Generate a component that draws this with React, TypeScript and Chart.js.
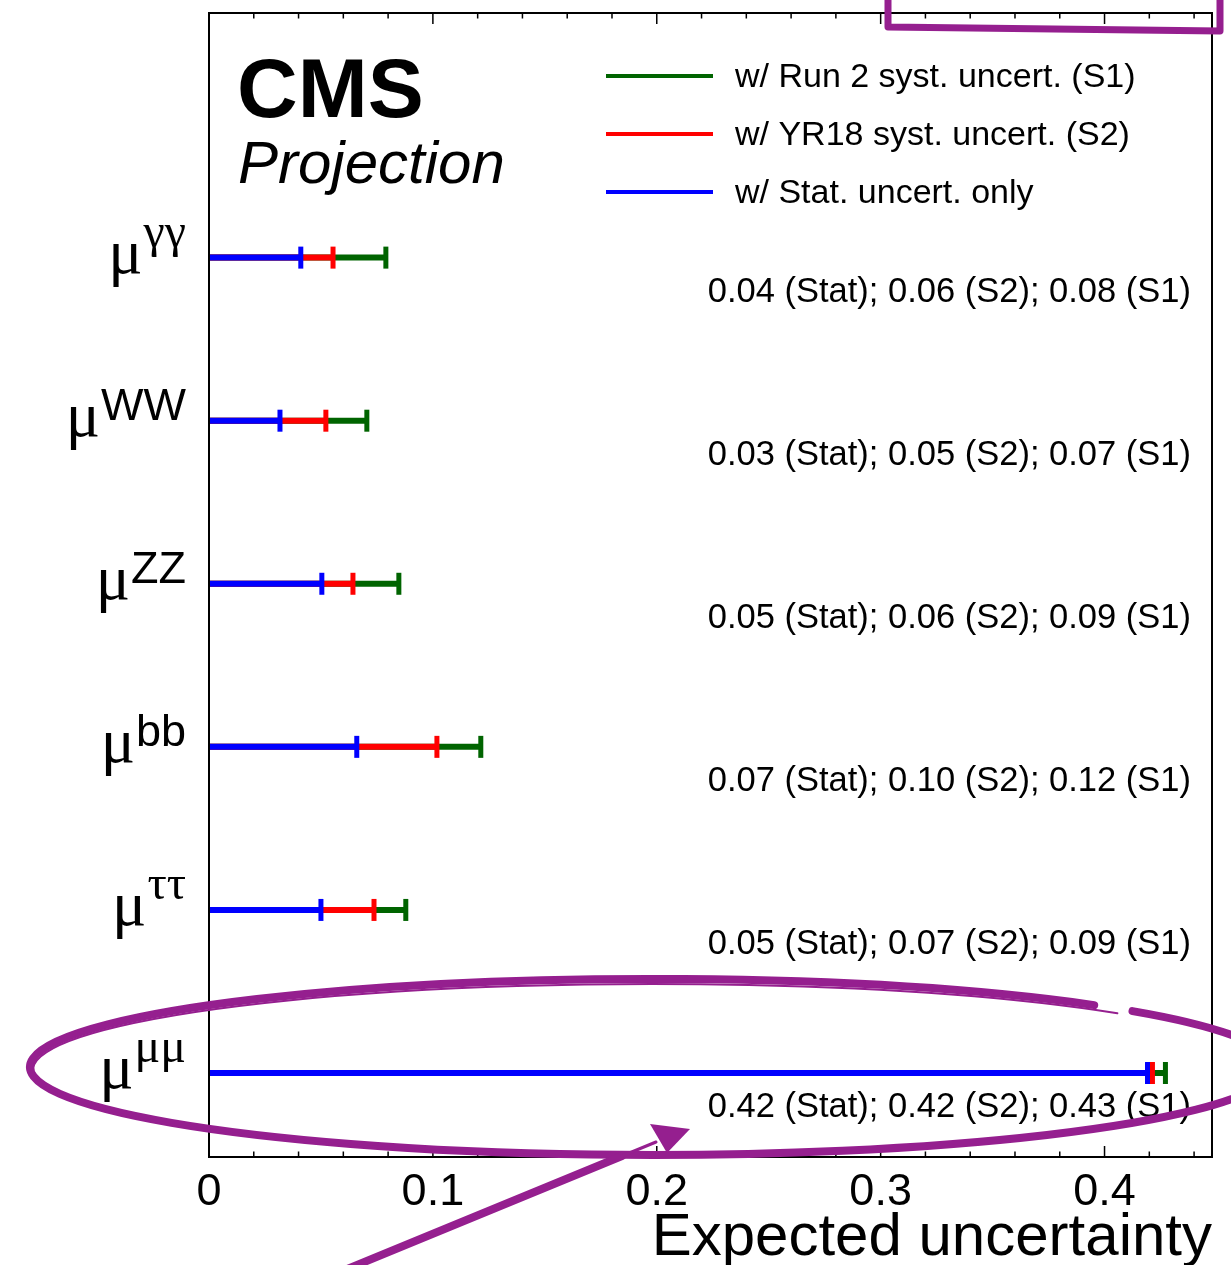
import React, { useEffect, useRef } from "react";
import { Chart, registerables } from "chart.js";

Chart.register(...registerables);

// ---- data ----
const categories = ["γγ", "WW", "ZZ", "bb", "ττ", "μμ"];
const categoryIsGreek = [true, false, false, false, true, true];
const rowPositions = [6, 5, 4, 3, 2, 1];
const statOnly = [0.041, 0.0317, 0.0504, 0.066, 0.05, 0.4192];
const yr18S2 = [0.0554, 0.0522, 0.0643, 0.1018, 0.0737, 0.4214];
const run2S1 = [0.079, 0.0705, 0.0848, 0.1214, 0.0879, 0.4272];
const statLabels = ["0.04", "0.03", "0.05", "0.07", "0.05", "0.42"];
const s2Labels = ["0.06", "0.05", "0.06", "0.10", "0.07", "0.42"];
const s1Labels = ["0.08", "0.07", "0.09", "0.12", "0.09", "0.43"];
const xMajorTicks = [0, 0.1, 0.2, 0.3, 0.4];
const xMajorTickLabels = ["0", "0.1", "0.2", "0.3", "0.4"];
const xMinorTicks = [
  0.02, 0.04, 0.06, 0.08, 0.12, 0.14, 0.16, 0.18, 0.22, 0.24, 0.26, 0.28,
  0.32, 0.34, 0.36, 0.38, 0.42, 0.44,
];
const legendLabels = [
  "w/ Run 2 syst. uncert. (S1)",
  "w/ YR18 syst. uncert. (S2)",
  "w/ Stat. uncert. only",
];
const legendColors = ["#006400", "#ff0000", "#0000ff"];
const xTitle = "Expected uncertainty";

const SANS = "'Liberation Sans', Arial, Helvetica, sans-serif";
const SERIF = "'Liberation Serif', 'Times New Roman', serif";
const PURPLE = "#951f8f";

function segData(vals: number[]) {
  const out: any[] = [];
  vals.forEach((v, i) => {
    out.push({ x: 0, y: rowPositions[i] });
    out.push({ x: v, y: rowPositions[i] });
    out.push({ x: 0, y: null });
  });
  return out;
}

function makeDataset(label: string, vals: number[], color: string, order: number) {
  return {
    label,
    data: segData(vals),
    borderColor: color,
    backgroundColor: color,
    borderWidth: 6,
    borderCapStyle: "butt" as const,
    spanGaps: false,
    showLine: true,
    pointStyle: "line" as const,
    pointRotation: 90,
    pointRadius: (ctx: any) => (ctx.raw && ctx.raw.x !== 0 && ctx.raw.y != null ? 11 : 0),
    pointHoverRadius: 0,
    pointBorderWidth: 5,
    pointBorderColor: color,
    order,
    clip: false as any,
  };
}

const framePlugin = {
  id: "frame",
  afterDraw(chart: any) {
    const ctx = chart.ctx as CanvasRenderingContext2D;
    const xs = chart.scales.x;
    const ys = chart.scales.y;
    const { left, right, top, bottom } = chart.chartArea;
    ctx.save();
    // frame
    ctx.strokeStyle = "#000";
    ctx.lineWidth = 2;
    ctx.strokeRect(left, top, right - left, bottom - top);
    // ticks (inward, bottom & top)
    ctx.lineWidth = 1.5;
    xMajorTicks.forEach((v) => {
      const px = xs.getPixelForValue(v);
      ctx.beginPath();
      ctx.moveTo(px, bottom);
      ctx.lineTo(px, bottom - 11);
      ctx.moveTo(px, top);
      ctx.lineTo(px, top + 11);
      ctx.stroke();
    });
    xMinorTicks.forEach((v) => {
      const px = xs.getPixelForValue(v);
      ctx.beginPath();
      ctx.moveTo(px, bottom);
      ctx.lineTo(px, bottom - 5.5);
      ctx.moveTo(px, top);
      ctx.lineTo(px, top + 5.5);
      ctx.stroke();
    });
    // tick labels
    ctx.fillStyle = "#000";
    ctx.font = `45px ${SANS}`;
    ctx.textAlign = "center";
    ctx.textBaseline = "alphabetic";
    xMajorTicks.forEach((v, i) => {
      ctx.fillText(xMajorTickLabels[i], xs.getPixelForValue(v), 1205);
    });
    // axis title
    ctx.font = `60px ${SANS}`;
    ctx.textAlign = "right";
    ctx.fillText(xTitle, right, 1255);

    // y category labels
    categories.forEach((cat, i) => {
      const py = ys.getPixelForValue(rowPositions[i]);
      const greek = categoryIsGreek[i];
      ctx.textAlign = "right";
      ctx.font = greek ? `48px ${SERIF}` : `45px ${SANS}`;
      const w = ctx.measureText(cat).width;
      ctx.fillText(cat, 186, greek ? py - 11 : py - 1);
      ctx.font = `64px ${SERIF}`;
      ctx.fillText("μ", 186 - w - 1, py + 15);
    });

    // value annotations
    ctx.font = `34.5px ${SANS}`;
    ctx.textAlign = "right";
    ctx.textBaseline = "middle";
    categories.forEach((_, i) => {
      const py = ys.getPixelForValue(rowPositions[i] - 0.2);
      const txt = `${statLabels[i]} (Stat); ${s2Labels[i]} (S2); ${s1Labels[i]} (S1)`;
      ctx.fillText(txt, 1191, py + 2);
    });

    // CMS label
    ctx.textAlign = "left";
    ctx.textBaseline = "alphabetic";
    ctx.font = `bold 84px ${SANS}`;
    ctx.fillText("CMS", 237, 117);
    ctx.font = `italic 60px ${SANS}`;
    ctx.fillText("Projection", 238, 183);

    // legend
    const legendY = [76, 134, 192];
    legendLabels.forEach((lab, i) => {
      ctx.strokeStyle = legendColors[i];
      ctx.lineWidth = 4;
      ctx.beginPath();
      ctx.moveTo(606, legendY[i]);
      ctx.lineTo(713, legendY[i]);
      ctx.stroke();
      ctx.fillStyle = "#000";
      ctx.font = `34px ${SANS}`;
      ctx.textBaseline = "middle";
      ctx.fillText(lab, 735, legendY[i] + 2);
    });

    // hand-drawn purple annotations
    ctx.strokeStyle = PURPLE;
    ctx.fillStyle = PURPLE;
    ctx.lineCap = "round";
    ctx.lineJoin = "round";
    // ellipse around the mu-mu row
    ctx.lineWidth = 8;
    ctx.beginPath();
    ctx.ellipse(652, 1067, 622, 88, 0, -0.688, 2 * Math.PI - 0.78, false);
    ctx.stroke();
    ctx.lineWidth = 2;
    ctx.beginPath();
    ctx.ellipse(652, 1070, 619, 86, 0, Math.PI * 0.55, 2 * Math.PI - 0.72, false);
    ctx.stroke();
    // arrow
    ctx.lineWidth = 8;
    ctx.beginPath();
    ctx.moveTo(340, 1272);
    ctx.lineTo(622, 1156);
    ctx.stroke();
    ctx.lineWidth = 3;
    ctx.beginPath();
    ctx.moveTo(622, 1156);
    ctx.lineTo(656, 1142);
    ctx.stroke();
    ctx.beginPath();
    ctx.moveTo(650, 1124);
    ctx.lineTo(690, 1129);
    ctx.lineTo(667, 1153);
    ctx.closePath();
    ctx.fill();
    // box at top right
    ctx.lineWidth = 7;
    ctx.lineCap = "butt";
    ctx.beginPath();
    ctx.moveTo(888, -5);
    ctx.lineTo(888, 27);
    ctx.lineTo(1220, 31);
    ctx.lineTo(1220, -5);
    ctx.stroke();
    ctx.restore();
  },
};

export default function App() {
  const ref = useRef<HTMLCanvasElement | null>(null);
  useEffect(() => {
    document.body.style.margin = "0";
    const canvas = ref.current!;
    const chart = new Chart(canvas, {
      type: "line",
      data: {
        datasets: [
          makeDataset(legendLabels[2], statOnly, legendColors[2], 1),
          makeDataset(legendLabels[1], yr18S2, legendColors[1], 2),
          makeDataset(legendLabels[0], run2S1, legendColors[0], 3),
        ],
      },
      options: {
        responsive: false,
        animation: false,
        devicePixelRatio: 1,
        layout: { padding: { left: 209, top: 13, right: 19, bottom: 108 } },
        plugins: { legend: { display: false }, tooltip: { enabled: false } },
        scales: {
          x: { type: "linear", min: 0, max: 0.448, display: false },
          y: { type: "linear", min: 0.485, max: 7.5, display: false },
        },
      },
      plugins: [framePlugin],
    });
    return () => chart.destroy();
  }, []);
  return (
    <div style={{ position: "absolute", left: 0, top: 0, width: 1231, height: 1265, background: "#fff" }}>
      <canvas ref={ref} width={1231} height={1265} style={{ display: "block" }} />
    </div>
  );
}
